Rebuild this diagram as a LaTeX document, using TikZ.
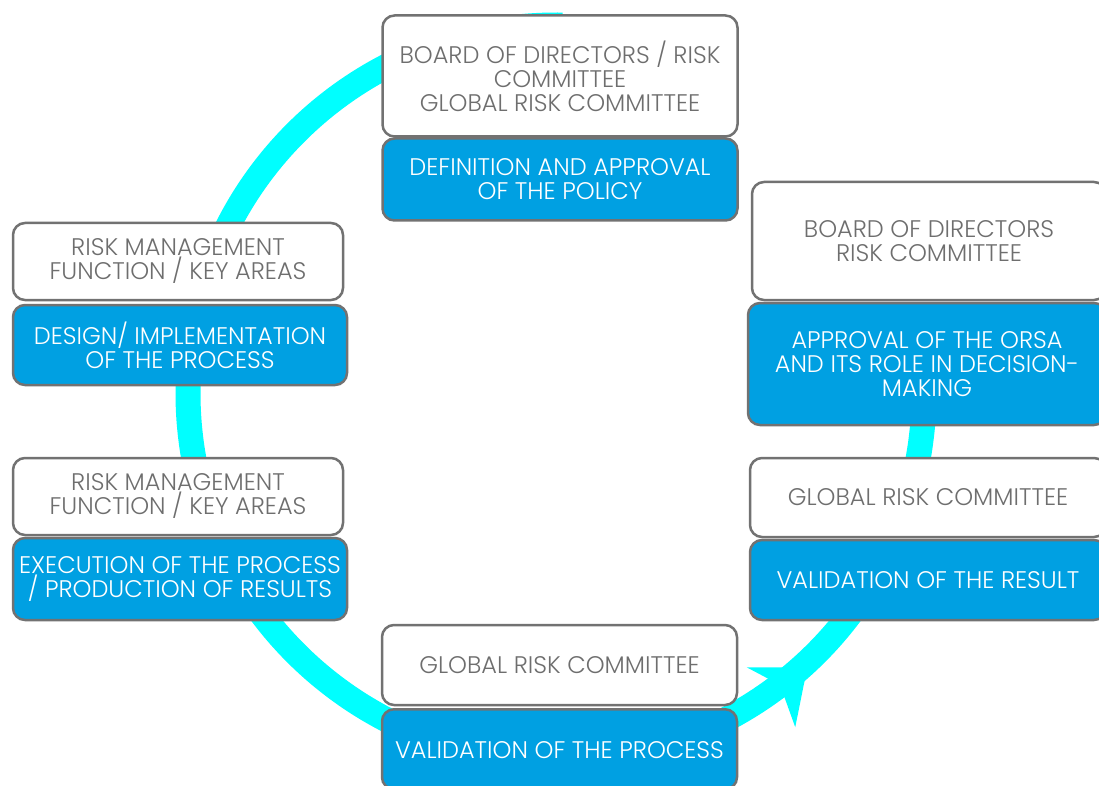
\documentclass[tikz,border=0pt]{standalone}
\usepackage{fontspec}
\setmainfont{Poppins Light}
\usetikzlibrary{calc}
\definecolor{ringc}{HTML}{00FFFF}
\definecolor{boxblue}{HTML}{00A0E2}
\definecolor{boxline}{HTML}{727272}
\definecolor{txtgray}{HTML}{6E6E6E}
\begin{document}
\begin{tikzpicture}[x=1pt,y=-1pt,
  base/.style={draw=boxline, line width=2.5pt, rounded corners=12pt, inner sep=0pt, align=center,
    font=\fontsize{24}{24}\selectfont},
  rolebox/.style={base, fill=white, text=txtgray},
  taskbox/.style={base, fill=boxblue, text=white}]
\useasboundingbox (0,0) rectangle (1099,786);
\fill[white] (0,0) rectangle (1099,786);
\coordinate (C) at (556,393);
% ring (open at the upper right, hidden behind the boxes)
\draw[ringc, line width=25pt] ($(C)+(-89:368)$) arc[start angle=-89, end angle=-365, radius=368];
% arrow head
\fill[ringc] ($(C)+(47.5:372)$) -- ($(C)+(55.2:334)$) -- ($(C)+(52.5:368)$) -- ($(C)+(54.4:411)$) -- cycle;
% white backing between stacked boxes
\fill[white] (15,292) rectangle (341,312);
\fill[white] (15,528) rectangle (341,546);
\fill[white] (754,292) rectangle (1099,312);
\fill[white] (752,530) rectangle (1099,548);
% top
\node[rolebox, minimum width=355pt, minimum height=121pt] (t1) at (560,76) {BOARD OF DIRECTORS / RISK\\COMMITTEE\\GLOBAL RISK COMMITTEE};
\node[taskbox, minimum width=355pt, minimum height=82pt] (t2) at (560,179.5) {DEFINITION AND APPROVAL\\OF THE POLICY};
% right upper
\node[rolebox, minimum width=354pt, minimum height=118pt] (ru1) at (929,241) {BOARD OF DIRECTORS\\RISK COMMITTEE};
\node[taskbox, minimum width=358pt, minimum height=122pt] (ru2) at (927,364) {APPROVAL OF THE ORSA\\AND ITS ROLE IN DECISION-\\MAKING};
% left upper
\node[rolebox, minimum width=330pt, minimum height=77pt] (lu1) at (178,261.5) {RISK MANAGEMENT\\FUNCTION / KEY AREAS};
\node[taskbox, minimum width=334pt, minimum height=80pt] (lu2) at (180,345) {DESIGN/ IMPLEMENTATION\\OF THE PROCESS};
% left lower
\node[rolebox, minimum width=330pt, minimum height=77pt] (ll1) at (178,496.5) {RISK MANAGEMENT\\FUNCTION / KEY AREAS};
\node[taskbox, minimum width=334pt, minimum height=82pt] (ll2) at (180,579) {EXECUTION OF THE PROCESS\\/ PRODUCTION OF RESULTS};
% bottom
\node[rolebox, minimum width=355pt, minimum height=80pt] (b1) at (559.5,665) {GLOBAL RISK COMMITTEE};
\node[taskbox, minimum width=355pt, minimum height=80pt, anchor=north] (b2) at (559.5,708) {};
\node[text=white, inner sep=0pt, font=\fontsize{24}{24}\selectfont] (b2t) at (559.5,750) {VALIDATION OF THE PROCESS};
% right lower
\node[rolebox, minimum width=356pt, minimum height=79pt] (rl1) at (928,497.5) {GLOBAL RISK COMMITTEE};
\node[taskbox, minimum width=356pt, minimum height=80pt] (rl2) at (928,580) {VALIDATION OF THE RESULT};
\end{tikzpicture}
\end{document}
